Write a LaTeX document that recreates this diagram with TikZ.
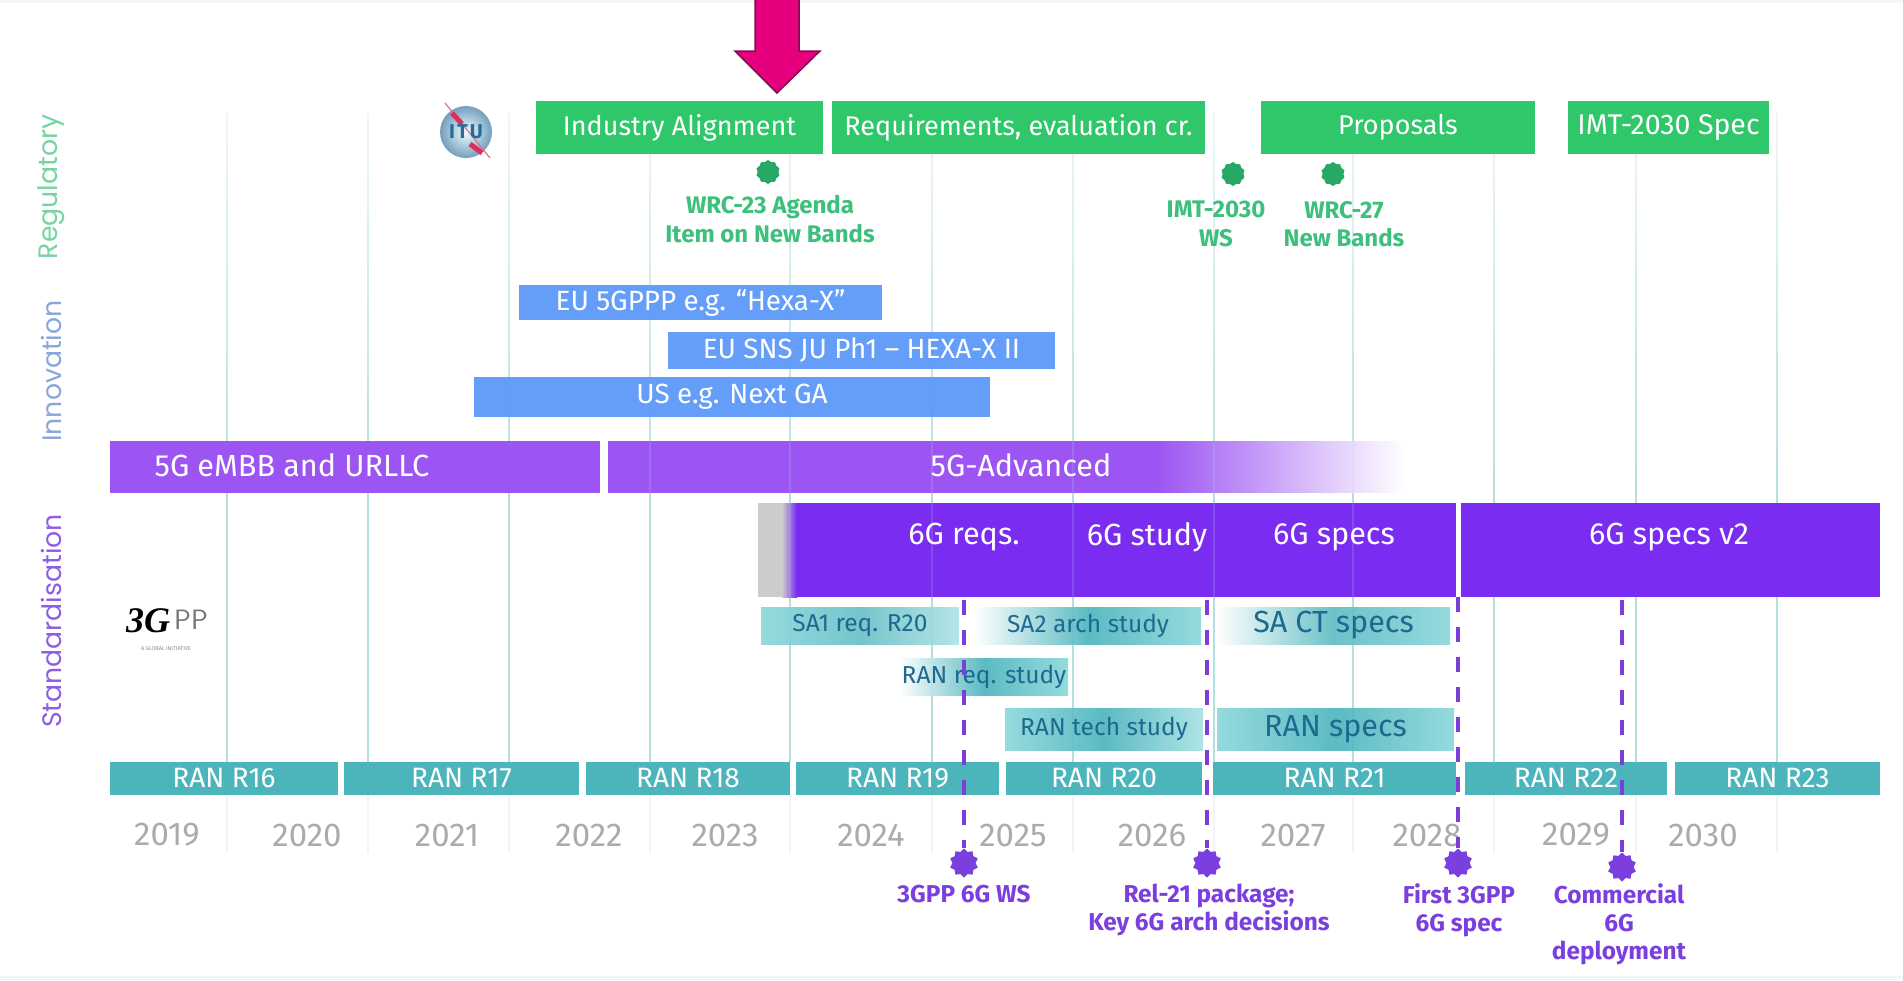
\documentclass[tikz,border=0pt]{standalone}
\usepackage{fontspec}
\setmainfont{Fira Sans}
\newfontfamily\sidefont{Poppins}
\newfontfamily\logofont{Liberation Serif}
\usetikzlibrary{shapes.geometric}
\definecolor{greenbox}{HTML}{2FC76A}
\definecolor{bluebox}{HTML}{5E9BF8}
\definecolor{purplea}{HTML}{9C55F2}
\definecolor{purpleb}{HTML}{7A2CF0}
\definecolor{ranbar}{HTML}{45B2BA}
\definecolor{ranmid}{HTML}{4FB5BE}
\definecolor{ranedge}{HTML}{8CD8DB}
\definecolor{darktext}{HTML}{1C6A90}
\definecolor{gridline}{HTML}{B5DEDF}
\definecolor{gridpale}{HTML}{EEF7F7}
\definecolor{msgreen}{HTML}{3CC07C}
\definecolor{starg}{HTML}{27A866}
\definecolor{mspurple}{HTML}{7B3FE0}
\definecolor{dashc}{HTML}{7B3FD8}
\definecolor{yeargrey}{HTML}{ABABAB}
\definecolor{arrowm}{HTML}{E6007E}
\definecolor{arrowd}{HTML}{7E0F4E}
\definecolor{itublue}{HTML}{2A6A9A}
\definecolor{itured}{HTML}{D8305A}
\tikzset{
  rect/.style={rectangle,draw=none,inner sep=0pt,outer sep=0pt,align=center,text=white},
  greenb/.style={rect,fill=greenbox,font=\fontsize{27}{30}\selectfont},
  blueb/.style={rect,fill=bluebox,fill opacity=.96,text opacity=1,font=\fontsize{27.8}{30}\selectfont},
  purpa/.style={rect,fill=purplea},
  purpb/.style={rect,fill=purpleb},
  ranb/.style={rect,fill=ranbar,fill opacity=.96,text opacity=1,font=\fontsize{28}{30}\selectfont},
  grad/.style={rect,text=darktext,fill opacity=.92,text opacity=1,font=\fontsize{24.5}{26}\selectfont},
  gradbig/.style={grad,font=\fontsize{30.5}{34}\selectfont},
  bigtext/.style={text=white,inner sep=0pt,font=\fontsize{30.6}{34}\selectfont},
  yeartext/.style={text=yeargrey,inner sep=0pt,font=\fontsize{33}{36}\selectfont},
  msg/.style={text=msgreen,inner sep=0pt,align=center,font=\fontsize{24}{28.5}\selectfont\bfseries},
  msp/.style={text=mspurple,inner sep=0pt,align=center,font=\fontsize{24.4}{28}\selectfont\bfseries},
  sidelab/.style={rotate=90,inner sep=0pt,font=\sidefont\fontsize{26.7}{30}\selectfont},
  stargreen/.style={star,star points=10,star point ratio=1.15,fill=starg,draw=none,minimum size=24pt,inner sep=0pt},
  starpurple/.style={star,star points=10,star point ratio=1.25,fill=mspurple,draw=none,minimum size=29pt,inner sep=0pt},
  dashline/.style={draw=dashc,line width=3.8pt,dash pattern=on 15pt off 15pt},
  gridp/.style={draw=gridpale,line width=1.2pt},
  gridl/.style={draw=gridline,line width=1.2pt},
}
\newcommand\boxn[7]{\node[#6,minimum width={(#3-#1)*1pt},minimum height={(#4-#2)*1pt}] (#5) at ({(#1+#3)/2},{(#2+#4)/2}) {#7};}
\newcommand\up[1]{\raisebox{1.5pt}{#1}}
\begin{document}
\begin{tikzpicture}[x=1pt,y=-1pt]
\useasboundingbox (0,0) rectangle (1903,980);
\fill[white] (0,0) rectangle (1903,980);
\fill[gray!8] (0,0) rectangle (1903,3);
\fill[gray!8] (0,976) rectangle (1903,980);
% grid lines
\foreach \gx in {227,368,509,650,790,932,1073,1214,1353,1494,1636,1777}{
  \shade[top color=gridpale,bottom color=gridline] ({\gx-.6},112) rectangle ({\gx+.6},500);
  \draw[gridl] (\gx,500) -- (\gx,762);
  \draw[gridp] (\gx,795) -- (\gx,853);
}
% regulatory
\boxn{536}{101}{823}{154}{b1}{greenb}{\raisebox{-1pt}{Industry Alignment}}
\boxn{832}{101}{1205}{154}{b2}{greenb}{\raisebox{-1pt}{Requirements, evaluation cr.}}
\boxn{1261}{101}{1535}{154}{b3}{greenb}{\raisebox{-1pt}{Proposals}}
\boxn{1568}{101}{1769}{154}{b4}{greenb,font=\fontsize{28.5}{30}\selectfont}{\raisebox{-1pt}{IMT-2030 Spec}}
% arrow
\draw[fill=arrowm,draw=arrowd,line width=1.5pt,line join=miter] (755,-2) -- (755,51) -- (735,51) -- (777,93) -- (820,51) -- (799,51) -- (799,-2) -- cycle;
% innovation
\boxn{519}{285}{882}{320}{i1}{blueb}{EU 5GPPP e.g. “Hexa-X”}
\boxn{668}{332}{1055}{369}{i2}{blueb}{EU SNS JU Ph1 – HEXA-X II}
\boxn{474}{377}{990}{417}{i3}{blueb}{US e.g. Next GA}
% 5G
\boxn{110}{441}{600}{493}{p1}{purpa}{}
\boxn{608}{441}{1157}{493}{p2}{purpa}{}
\boxn{1156.5}{441.3}{1405}{492.3}{p3}{rect,left color=purplea,right color=white}{}
\node[bigtext] (p1t) at (292,465) {5G eMBB and URLLC};
\node[bigtext] (p2t) at (1021,465) {5G-Advanced};
% 6G
\boxn{758}{503}{782}{597}{g0}{rect,fill=gray!40}{}
\boxn{782}{503}{797}{597}{g1}{rect,left color=gray!40,right color=purpleb}{}
\boxn{796}{503}{1456}{597}{g2}{purpb}{}
\boxn{1461}{503}{1880}{597}{g3}{purpb}{}
% faint grid across the purple bands
\foreach \gx in {650,790,932,1073,1214,1353}{
  \draw[gridl,opacity=.18] (\gx,441) -- (\gx,597);
}
\node[bigtext] (t1) at (964,537) {6G reqs.};
\node[bigtext] (t2) at (1147,537) {6G study};
\node[bigtext] (t3) at (1334,537) {6G specs};
\node[bigtext] (t4) at (1669,537) {6G specs v2};
% gradient boxes
\boxn{761}{607}{959}{644}{s1}{grad,left color=ranedge,right color=ranedge!70,middle color=ranmid!85}{SA1 req. R20}
\boxn{975}{607}{1201}{644}{s2}{grad,left color=white,right color=ranedge,middle color=ranmid}{SA2 arch study}
\boxn{1217}{607}{1450}{644}{s3}{gradbig,left color=white,right color=ranedge,middle color=ranmid!90}{SA CT specs}
\boxn{900}{658}{1068}{695}{r1}{grad,left color=white,right color=ranedge,middle color=ranmid}{RAN req. study}
\boxn{1005}{708}{1203}{750}{r2}{grad,left color=ranedge,right color=ranedge!75,middle color=ranmid}{RAN tech study}
\boxn{1217}{708}{1454}{750}{r3}{gradbig,left color=ranedge,right color=ranedge,middle color=ranmid}{RAN specs}
% release bars
\boxn{110}{762}{338}{795}{k6}{ranb}{\up{RAN R16}}
\boxn{344}{762}{579}{795}{k7}{ranb}{\up{RAN R17}}
\boxn{586}{762}{790}{795}{k8}{ranb}{\up{RAN R18}}
\boxn{796}{762}{999}{795}{k9}{ranb}{\up{RAN R19}}
\boxn{1006}{762}{1202}{795}{k0}{ranb}{\up{RAN R20}}
\boxn{1213}{762}{1456}{795}{ka}{ranb}{\up{RAN R21}}
\boxn{1465}{762}{1667}{795}{kb}{ranb}{\up{RAN R22}}
\boxn{1675}{762}{1880}{795}{kc}{ranb}{\up{RAN R23}}
% years
\foreach \yx/\yl in {167/2019,307/2020,447/2021,589/2022,725/2023,871/2024,1013/2025,1152/2026,1293/2027,1427/2028,1576/2029,1703/2030}{
  \node[yeartext] (y\yl) at (\yx,835) {\yl};
}
% side labels
\node[sidelab,text=msgreen!70] (sreg) at (51,187) {Regulatory};
\node[sidelab,text=bluebox!65!gray!80] (sinn) at (51,371) {Innovation};
\node[sidelab,text=mspurple!85] (ssta) at (51,621) {Standardisation};
% green milestones
\node[stargreen] (m1) at (768,172) {};
\node[stargreen] (m2) at (1233,174) {};
\node[stargreen] (m3) at (1333,174) {};
\node[msg] (ml1) at (770,219) {WRC-23 Agenda\\Item on New Bands};
\node[msg] (ml2) at (1216,224) {IMT-2030\\WS};
\node[msg] (ml3) at (1344,224) {WRC-27\\New Bands};
% purple milestones
\coordinate (d1) at (964,600);
\coordinate (d2) at (1207,600);
\coordinate (d3) at (1458,597);
\coordinate (d4) at (1622,600);
\node[starpurple] (a1) at (964,863) {};
\node[starpurple] (a2) at (1207,863) {};
\node[starpurple] (a3) at (1458,863) {};
\node[starpurple] (a4) at (1622,867) {};
\draw[dashline] (d1) -- (a1);
\draw[dashline] (d2) -- (a2);
\draw[dashline] (d3) -- (a3);
\draw[dashline] (d4) -- (a4);
\node[msp] (al1) at (964,894) {3GPP 6G WS};
\node[msp] (al2) at (1209,910) {Rel-21 package;\\Key 6G arch decisions};
\node[msp] (al3) at (1459,910) {First 3GPP\\6G spec};
\node[msp] (al4) at (1619,924) {Commercial\\6G\\deployment};
% ITU logo
\shade[inner color=cyan!8!white,outer color=itublue!65] (466,132) circle (26);
\draw[itured!70,line width=1.2pt] (445,103) -- (490,158);
\draw[itured,line width=5pt] (452,113) -- (462,124);
\draw[itured,line width=5pt] (470,144) -- (482,153);
\node[text=itublue,inner sep=0pt,font=\fontsize{20}{22}\selectfont\bfseries] (itu) at (466,132) {I\kern2pt T\kern2pt U};
% 3GPP logo
\node[inner sep=0pt,font=\logofont\fontsize{36}{38}\selectfont\bfseries\itshape] (lg3) at (148,621) {3G};
\node[inner sep=0pt,text=black!55,font=\sffamily\fontsize{28}{32}\selectfont] (lgp) at (191,620) {PP};
\node[inner sep=0pt,text=black!45,font=\fontsize{5.5}{6}\selectfont] (lgt) at (166,649) {A GLOBAL INITIATIVE};
\end{tikzpicture}
\end{document}
